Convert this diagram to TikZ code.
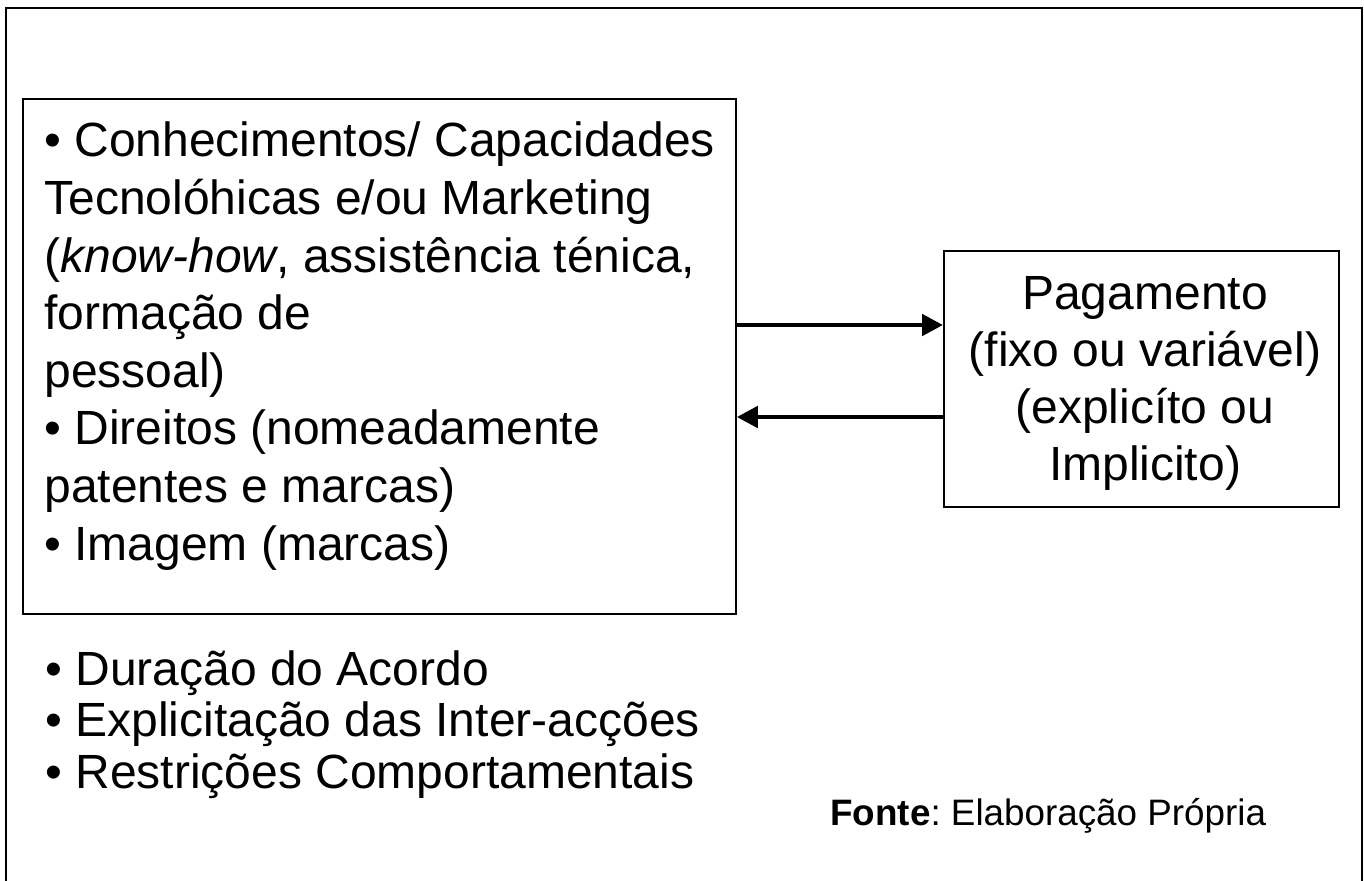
\documentclass[tikz,border=0pt]{standalone}
\usepackage{fontspec}
\setmainfont{Liberation Sans}
\frenchspacing
\usetikzlibrary{arrows.meta, positioning}
\tikzstyle{box} = [draw=black, line width=0.9pt, rectangle, inner sep=0pt]
\tikzstyle{txt} = [inner sep=0pt, font=\fontsize{24}{28.8}\selectfont]
\tikzstyle{flow} = [line width=2.4pt, -{Triangle[length=10.5pt,width=10.5pt]}]

\begin{document}
\begin{tikzpicture}[x=0.5pt, y=-0.5pt]
    \useasboundingbox (0,0) rectangle (1364,880);
    \draw[line width=1pt] (6,900) |- (1362,8) -- (1362,900);
    \node[box, anchor=north west, minimum width=356.5pt, minimum height=257.5pt] (know) at (22,98) {};
    \node[box, anchor=north west, minimum width=197.5pt, minimum height=128pt] (pay) at (943,250) {};
    \node[txt, anchor=base west, align=left] (knowtxt) at (44,560) {%
        • Conhecimentos/ Capacidades\\
        Tecnolóhicas e/ou Marketing\\
        (\textit{know-how}, assistência ténica,\\
        formação de\\
        pessoal)\\
        • Direitos (nomeadamente\\
        patentes e marcas)\\
        • Imagem (marcas)};
    \node[txt, anchor=base, align=center, font=\fontsize{24}{28.35}\selectfont] (paytxt) at (1145,480) {%
        Pagamento\\
        (fixo ou variável)\\
        (explicíto ou\\
        Implicito)};
    \node[txt, anchor=base west, align=left, font=\fontsize{24}{25.75}\selectfont] (terms) at (45,788) {%
        • Duração do Acordo\\
        • Explicitação das Inter-acções\\
        • Restrições Comportamentais};
    \node[anchor=base west, inner sep=0pt, font=\fontsize{18.4}{22}\selectfont] (fonte) at (830,825) {\textbf{Fonte}: Elaboração Própria};
    \draw[flow] (know.east |- 0,325) -- (pay.west |- 0,325);
    \draw[flow] (pay.west |- 0,417) -- (know.east |- 0,417);
\end{tikzpicture}
\end{document}
